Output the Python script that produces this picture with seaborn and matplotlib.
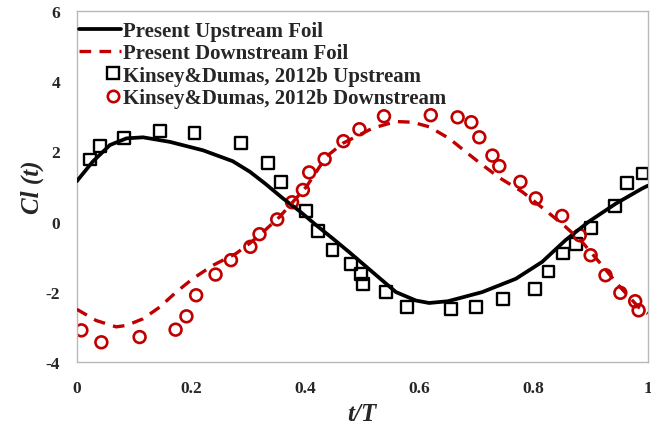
import numpy as np
import pandas as pd
import matplotlib
matplotlib.use("Agg")
import matplotlib.pyplot as plt
import seaborn as sns
from matplotlib.lines import Line2D
from matplotlib.legend_handler import HandlerLine2D

# Present simulation, upstream foil (solid black)
up_line_t = [0.000, 0.028, 0.058, 0.087, 0.116, 0.163, 0.221, 0.273, 0.303, 0.330,
             0.361, 0.390, 0.419, 0.448, 0.477, 0.518, 0.559, 0.594, 0.617, 0.650,
             0.710, 0.769, 0.815, 0.856, 0.897, 0.944, 0.990, 1.000]
up_line_cl = [1.15, 1.71, 2.18, 2.37, 2.40, 2.27, 2.03, 1.72, 1.42, 1.08,
              0.66, 0.30, -0.10, -0.48, -0.87, -1.44, -2.01, -2.25, -2.32, -2.27,
              -2.01, -1.63, -1.15, -0.53, 0.00, 0.51, 0.94, 1.02]

# Present simulation, downstream foil (dashed red)
down_line_t = [0.000, 0.034, 0.069, 0.087, 0.116, 0.145, 0.174, 0.203, 0.238, 0.279,
               0.302, 0.320, 0.355, 0.384, 0.402, 0.437, 0.466, 0.518, 0.559, 0.588,
               0.617, 0.652, 0.681, 0.705, 0.740, 0.780, 0.821, 0.856, 0.885, 0.920,
               0.949, 0.984, 1.000]
down_line_cl = [-2.50, -2.82, -3.00, -2.96, -2.77, -2.44, -2.01, -1.63, -1.25, -0.91,
                -0.63, -0.39, 0.13, 0.66, 0.99, 1.85, 2.23, 2.66, 2.85, 2.83,
                2.70, 2.37, 1.99, 1.68, 1.25, 0.85, 0.32, -0.15, -0.58, -1.25,
                -1.82, -2.44, -2.62]

# Kinsey & Dumas (2012b) experiment, upstream (squares)
kd_up_t = [0.023, 0.041, 0.083, 0.146, 0.206, 0.287, 0.335, 0.358, 0.402, 0.423,
           0.448, 0.480, 0.498, 0.501, 0.541, 0.578, 0.655, 0.699, 0.747, 0.803,
           0.826, 0.852, 0.874, 0.901, 0.942, 0.963, 0.991]
kd_up_cl = [1.77, 2.15, 2.37, 2.59, 2.53, 2.24, 1.66, 1.13, 0.31, -0.27,
            -0.82, -1.20, -1.49, -1.77, -2.01, -2.44, -2.50, -2.44, -2.20, -1.93,
            -1.42, -0.91, -0.65, -0.18, 0.45, 1.09, 1.37]

# Kinsey & Dumas (2012b) experiment, downstream (circles)
kd_down_t = [0.008, 0.043, 0.110, 0.173, 0.192, 0.209, 0.243, 0.270, 0.304, 0.320,
             0.351, 0.377, 0.396, 0.407, 0.434, 0.467, 0.495, 0.538, 0.620, 0.667,
             0.691, 0.705, 0.728, 0.740, 0.777, 0.804, 0.850, 0.881, 0.900, 0.926,
             0.952, 0.978, 0.984]
kd_down_cl = [-3.10, -3.44, -3.29, -3.08, -2.70, -2.10, -1.51, -1.10, -0.72, -0.36,
              0.06, 0.55, 0.90, 1.40, 1.78, 2.29, 2.63, 3.00, 3.03, 2.97,
              2.83, 2.40, 1.88, 1.58, 1.13, 0.66, 0.16, -0.39, -0.96, -1.53,
              -2.03, -2.27, -2.53]

x_ticks = [0, 0.2, 0.4, 0.6, 0.8, 1]
x_tick_labels = ["0", "0.2", "0.4", "0.6", "0.8", "1"]
y_ticks = [-4, -2, 0, 2, 4, 6]

labels = ["Present Upstream Foil", "Present Downstream Foil",
          "Kinsey&Dumas, 2012b Upstream", "Kinsey&Dumas, 2012b Downstream"]

RED = "#c00000"
GRID_GREY = "#b8b8b8"


class RightMarkerHandler(HandlerLine2D):
    """Put the legend marker at the right end of the handle (Excel look)."""
    def get_xdata(self, legend, xdescent, ydescent, width, height, fontsize):
        xm = -xdescent + width - 0.35 * fontsize
        # single-point legends mark the middle of the line, so centre it on xm
        return [xm - 0.5, xm + 0.5], [xm]


sns.set_style("white")
plt.rcParams["font.family"] = ["Liberation Serif", "DejaVu Serif"]
plt.rcParams["font.weight"] = "bold"
plt.rcParams["axes.unicode_minus"] = False

fig = plt.figure(figsize=(6.51, 4.27), dpi=100)
ax = fig.add_axes([0.118, 0.150, 0.877, 0.822])

up_df = pd.DataFrame({"t": up_line_t, "cl": up_line_cl})
down_df = pd.DataFrame({"t": down_line_t, "cl": down_line_cl})
kd_up_df = pd.DataFrame({"t": kd_up_t, "cl": kd_up_cl})
kd_down_df = pd.DataFrame({"t": kd_down_t, "cl": kd_down_cl})

# experimental markers first, lines on top
sns.scatterplot(data=kd_up_df, x="t", y="cl", ax=ax, marker="s", s=72,
                facecolor="none", edgecolor="black", linewidth=1.7, legend=False, zorder=2)
sns.scatterplot(data=kd_down_df, x="t", y="cl", ax=ax, marker="o", s=72,
                facecolor="none", edgecolor=RED, linewidth=1.9, legend=False, zorder=2)
sns.lineplot(data=up_df, x="t", y="cl", ax=ax, color="black", linewidth=2.7,
             sort=False, legend=False, zorder=3)
sns.lineplot(data=down_df, x="t", y="cl", ax=ax, color=RED, linewidth=2.4,
             sort=False, legend=False, zorder=3)
ax.lines[-1].set_dashes((3.5, 2.5))

ax.set_xlim(0, 1)
ax.set_ylim(-4, 6)
ax.set_xticks(x_ticks)
ax.set_xticklabels(x_tick_labels)
ax.set_yticks(y_ticks)
ax.tick_params(axis="both", direction="in", length=4, width=0.8, color="#999999",
               labelsize=12.5, pad=13)
ax.tick_params(axis="y", pad=12)
for lab in ax.get_xticklabels() + ax.get_yticklabels():
    lab.set_fontweight("bold")

for side in ["left", "right", "top", "bottom"]:
    ax.spines[side].set_visible(True)
    ax.spines[side].set_color(GRID_GREY)
    ax.spines[side].set_linewidth(1.0)

ax.set_xlabel("t/T", fontsize=18, fontstyle="italic", fontweight="bold", labelpad=4)
ax.set_ylabel("Cl (t)", fontsize=18, fontstyle="italic", fontweight="bold", labelpad=1.5)

handles = [
    Line2D([], [], color="black", linewidth=2.7),
    Line2D([], [], color=RED, linewidth=2.4, dashes=(3.5, 2.5)),
    Line2D([], [], linestyle="none", marker="s", markersize=8.2, markerfacecolor="none",
           markeredgecolor="black", markeredgewidth=1.7),
    Line2D([], [], linestyle="none", marker="o", markersize=8.2, markerfacecolor="none",
           markeredgecolor=RED, markeredgewidth=1.9),
]
ax.legend(handles, labels, loc="upper left", bbox_to_anchor=(0.0, 0.977), frameon=False,
          handlelength=2.0, handletextpad=0.1, labelspacing=0.11,
          borderpad=0.1, borderaxespad=0.0,
          handler_map={handles[2]: RightMarkerHandler(), handles[3]: RightMarkerHandler()},
          prop={"family": "Liberation Serif", "weight": "bold", "size": 15})

fig.savefig("out.png", dpi=100)
